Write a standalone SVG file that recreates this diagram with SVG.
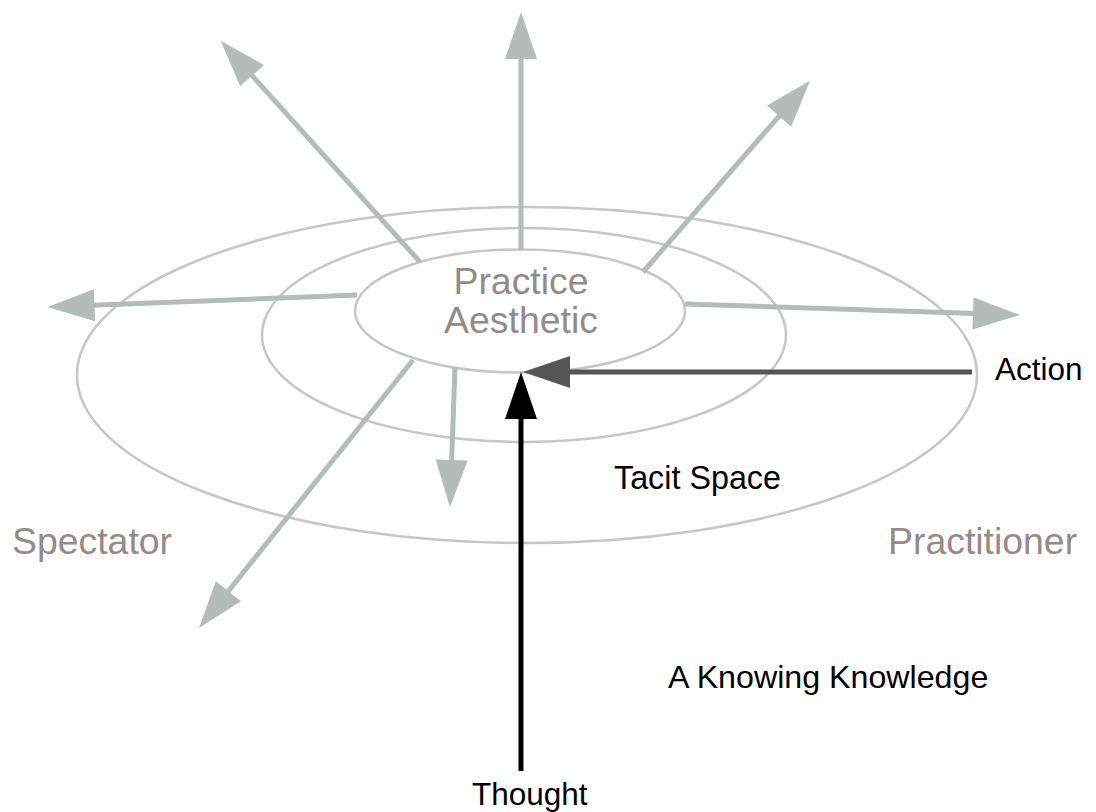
<svg xmlns="http://www.w3.org/2000/svg" width="1096" height="812" viewBox="0 0 1096 812">
<style>
.ring{fill:none;stroke:#c9c5c5;stroke-width:2.5}
.g{stroke:#b3bcb7;stroke-width:5;fill:none}
.k{stroke:#000;stroke-width:5;fill:none}
.d{stroke:#555;stroke-width:5;fill:none}
.lbl{font-family:"Liberation Sans",Arial,sans-serif;font-size:31.5px;fill:#000}
.big{font-family:"Liberation Sans",Arial,sans-serif;font-size:37.4px;fill:#938b8a}
</style>
<defs>
<marker id="hg" markerUnits="userSpaceOnUse" markerWidth="48" markerHeight="32" refX="2" refY="16" orient="auto" overflow="visible"><path d="M0,0 L47,16 L0,32 z" fill="#b3bcb7"/></marker>
<marker id="hk" markerUnits="userSpaceOnUse" markerWidth="48" markerHeight="32" refX="2" refY="16" orient="auto" overflow="visible"><path d="M0,0 L47,16 L0,32 z" fill="#000"/></marker>
<marker id="hd" markerUnits="userSpaceOnUse" markerWidth="48" markerHeight="32" refX="2" refY="16" orient="auto" overflow="visible"><path d="M0,0 L47,16 L0,32 z" fill="#555"/></marker>
</defs>
<rect width="1096" height="812" fill="#fff"/>
<g id="outer-ring"><ellipse class="ring" cx="527" cy="375" rx="450" ry="168"/></g>
<g id="middle-ring"><ellipse class="ring" cx="524" cy="335" rx="262" ry="107"/></g>
<g id="practice-aesthetic">
<ellipse class="ring" cx="520" cy="311" rx="165" ry="61.5"/>
<text class="big" x="521" y="294" text-anchor="middle">Practice</text>
<text class="big" x="521" y="333" text-anchor="middle">Aesthetic</text>
</g>
<g id="connectors">
<line class="g" x1="521" y1="250" x2="521" y2="57" marker-end="url(#hg)"/>
<line class="g" x1="420" y1="262" x2="250.8" y2="74.1" marker-end="url(#hg)"/>
<line class="g" x1="643" y1="272" x2="780.4" y2="114.6" marker-end="url(#hg)"/>
<line class="g" x1="357" y1="295" x2="92.5" y2="305.3" marker-end="url(#hg)"/>
<line class="g" x1="685" y1="304" x2="975" y2="313.5" marker-end="url(#hg)"/>
<line class="g" x1="413" y1="360" x2="227.1" y2="592.8" marker-end="url(#hg)"/>
<line class="g" x1="455" y1="367" x2="451.6" y2="462" marker-end="url(#hg)"/>
<line class="d" x1="972" y1="372" x2="568" y2="372" marker-end="url(#hd)"/>
<line class="k" x1="521" y1="771" x2="521" y2="417" marker-end="url(#hk)"/>
</g>
<g id="action"><text class="lbl" x="995" y="380">Action</text></g>
<g id="tacit-space"><text class="lbl" x="614" y="489" style="font-size:32.3px">Tacit Space</text></g>
<g id="spectator"><text class="big" x="12" y="554">Spectator</text></g>
<g id="practitioner"><text class="big" x="888" y="554">Practitioner</text></g>
<g id="knowing"><text class="lbl" x="668" y="688" style="font-size:32.2px">A Knowing Knowledge</text></g>
<g id="thought"><text class="lbl" x="472" y="805">Thought</text></g>
</svg>
